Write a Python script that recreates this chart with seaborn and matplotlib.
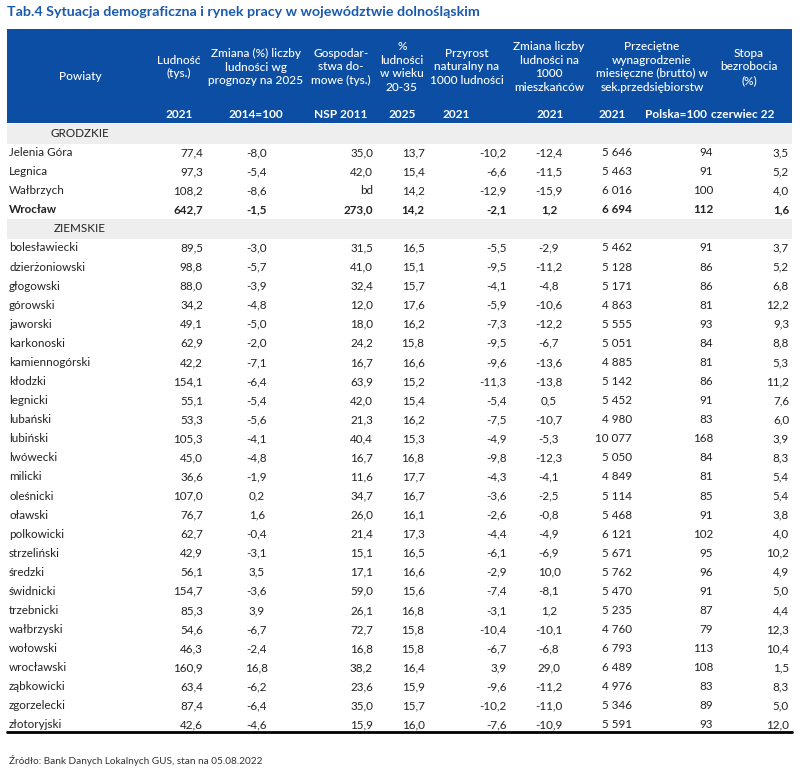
import numpy as np
import pandas as pd
import seaborn as sns
import matplotlib.pyplot as plt

# dane z tabeli
grodzkie = ["Jelenia Góra", "Legnica", "Wałbrzych", "Wrocław"]
ziemskie = ["bolesławiecki", "dzierżoniowski", "głogowski", "górowski", "jaworski",
            "karkonoski", "kamiennogórski", "kłodzki", "legnicki", "lubański",
            "lubiński", "lwówecki", "milicki", "oleśnicki", "oławski", "polkowicki",
            "strzeliński", "średzki", "świdnicki", "trzebnicki", "wałbrzyski",
            "wołowski", "wrocławski", "ząbkowicki", "zgorzelecki", "złotoryjski"]

ludnosc = [77.4, 97.3, 108.2, 642.7,
           89.5, 98.8, 88.0, 34.2, 49.1, 62.9, 42.2, 154.1, 55.1, 53.3, 105.3, 45.0,
           36.6, 107.0, 76.7, 62.7, 42.9, 56.1, 154.7, 85.3, 54.6, 46.3, 160.9, 63.4,
           87.4, 42.6]
zmiana_prognoza = [-8.0, -5.4, -8.6, -1.5,
                   -3.0, -5.7, -3.9, -4.8, -5.0, -2.0, -7.1, -6.4, -5.4, -5.6, -4.1,
                   -4.8, -1.9, 0.2, 1.6, -0.4, -3.1, 3.5, -3.6, 3.9, -6.7, -2.4, 16.8,
                   -6.2, -6.4, -4.6]
gospodarstwa = [35.0, 42.0, "bd", 273.0,
                31.5, 41.0, 32.4, 12.0, 18.0, 24.2, 16.7, 63.9, 42.0, 21.3, 40.4, 16.7,
                11.6, 34.7, 26.0, 21.4, 15.1, 17.1, 59.0, 26.1, 72.7, 16.8, 38.2, 23.6,
                35.0, 15.9]
proc_20_35 = [13.7, 15.4, 14.2, 14.2,
              16.5, 15.1, 15.7, 17.6, 16.2, 15.8, 16.6, 15.2, 15.4, 16.2, 15.3, 16.8,
              17.7, 16.7, 16.1, 17.3, 16.5, 16.6, 15.6, 16.8, 15.8, 15.8, 16.4, 15.9,
              15.7, 16.0]
przyrost = [-10.2, -6.6, -12.9, -2.1,
            -5.5, -9.5, -4.1, -5.9, -7.3, -9.5, -9.6, -11.3, -5.4, -7.5, -4.9, -9.8,
            -4.3, -3.6, -2.6, -4.4, -6.1, -2.9, -7.4, -3.1, -10.4, -6.7, 3.9, -9.6,
            -10.2, -7.6]
zmiana_1000 = [-12.4, -11.5, -15.9, 1.2,
               -2.9, -11.2, -4.8, -10.6, -12.2, -6.7, -13.6, -13.8, 0.5, -10.7, -5.3,
               -12.3, -4.1, -2.5, -0.8, -4.9, -6.9, 10.0, -8.1, 1.2, -10.1, -6.8, 29.0,
               -11.2, -11.0, -10.9]
wynagrodzenie = [5646, 5463, 6016, 6694,
                 5462, 5128, 5171, 4863, 5555, 5051, 4885, 5142, 5452, 4980, 10077,
                 5050, 4849, 5114, 5468, 6121, 5671, 5762, 5470, 5235, 4760, 6793,
                 6489, 4976, 5346, 5591]
polska_100 = [94, 91, 100, 112,
              91, 86, 86, 81, 93, 84, 81, 86, 91, 83, 168, 84, 81, 85, 91, 102, 95,
              96, 91, 87, 79, 113, 108, 83, 89, 93]
stopa = [3.5, 5.2, 4.0, 1.6,
         3.7, 5.2, 6.8, 12.2, 9.3, 8.8, 5.3, 11.2, 7.6, 6.0, 3.9, 8.3, 5.4, 5.4, 3.8,
         4.0, 10.2, 4.9, 5.0, 4.4, 12.3, 10.4, 1.5, 8.3, 5.0, 12.0]

naglowki = ["Powiaty", "Ludność\n(tys.)", "Zmiana (%) liczby\nludności wg\nprognozy na 2025",
            "Gospodar-\nstwa do-\nmowe (tys.)", "%\nludności\nw wieku\n20-35",
            "Przyrost\nnaturalny na\n1000 ludności", "Zmiana liczby\nludności na\n1000\nmieszkańców",
            "Przeciętne\nwynagrodzenie\nmiesięczne (brutto) w\nsek.przedsiębiorstw",
            "Stopa\nbezrobocia\n(%)"]
podnaglowki = ["2021", "2014=100", "NSP 2011", "2025", "2021", "2021", "2021",
               "Polska=100", "czerwiec 22"]

BLUE = "#0c4ea3"
TITLE_BLUE = "#1a5aab"
GREY = "#eeeeee"

sns.set_theme(style="white")
plt.rcParams['font.family'] = ['Lato', 'DejaVu Sans']

df = pd.DataFrame({
    "name": grodzkie + ziemskie,
    "ludnosc": ludnosc, "zmiana": zmiana_prognoza, "gosp": gospodarstwa,
    "proc": proc_20_35, "przyrost": przyrost, "zm1000": zmiana_1000,
    "wyn": wynagrodzenie, "pl": polska_100, "stopa": stopa,
})


def fmt(v, dec=1):
    if isinstance(v, str):
        return v
    s = f"{v:,.{dec}f}"
    return s.replace(",", " ").replace(".", ",")


# kolumny: (kolumna, x, wyrównanie, miejsca po przecinku)
kolumny = [("ludnosc", 203, "right", 1), ("zmiana", 257, "center", 1),
           ("gosp", 373, "right", 1), ("proc", 413, "center", 1),
           ("przyrost", 507, "right", 1), ("zm1000", 549, "center", 1),
           ("wyn", 632, "right", 0), ("pl", 713, "right", 0),
           ("stopa", 789, "right", 1)]

fig = plt.figure(figsize=(8, 7.73), dpi=100)
ax = fig.add_axes([0, 0, 1, 1])
ax.set_xlim(0, 800)
ax.set_ylim(773, 0)
ax.axis("off")

ax.text(7, 12, "Tab.4 Sytuacja demograficzna i rynek pracy w województwie dolnośląskim",
        color=TITLE_BLUE, fontsize=10.3, fontweight="bold", va="center", ha="left")

# nagłówek
ax.axhspan(29, 123, xmin=7 / 800, xmax=792 / 800, color=BLUE, lw=0)
hx = [80, 179, 256, 341, 402, 467, 549, 652, 749]
for x, lab in zip(hx, naglowki):
    ax.text(x, 67 if lab != "Powiaty" else 76, lab, color="white", fontsize=8.6,
            ha="center", va="center", linespacing=1.3, fontweight="medium")
sx = [179, 256, 341, 402, 456, 550, 612, 676, 743]
for x, lab in zip(sx, podnaglowki):
    ax.text(x, 115, lab, color="white", fontsize=8.6, ha="center", va="center",
            fontweight="bold")

# wiersze
step = 19.08
y0 = 133.5
rows = [("GRODZKIE", None)] + [(n, i) for i, n in enumerate(grodzkie)] + \
       [("ZIEMSKIE", None)] + [(n, i + len(grodzkie)) for i, n in enumerate(ziemskie)]
for r, (name, idx) in enumerate(rows):
    y = y0 + r * step
    if idx is None:
        ax.axhspan(y - 10, y + 10, xmin=7 / 800, xmax=792 / 800, color=GREY, lw=0)
        ax.text(80, y, name, fontsize=8.4, ha="center", va="center", color="#222222")
        continue
    w = "bold" if name == "Wrocław" else "normal"
    ax.text(9, y, name, fontsize=8.4, ha="left", va="center", color="#222222",
            fontweight=w)
    for col, x, ha, dec in kolumny:
        ax.text(x, y, fmt(df.loc[idx, col], dec), fontsize=8.4, ha=ha, va="center",
                color="#222222", fontweight=w)

ax.plot([7, 792], [732, 732], color="black", lw=2)
ax.text(9, 760, "Źródło: Bank Danych Lokalnych GUS, stan na 05.08.2022",
        fontsize=7.2, ha="left", va="center", color="#333333")

fig.savefig("out.png", dpi=100)
